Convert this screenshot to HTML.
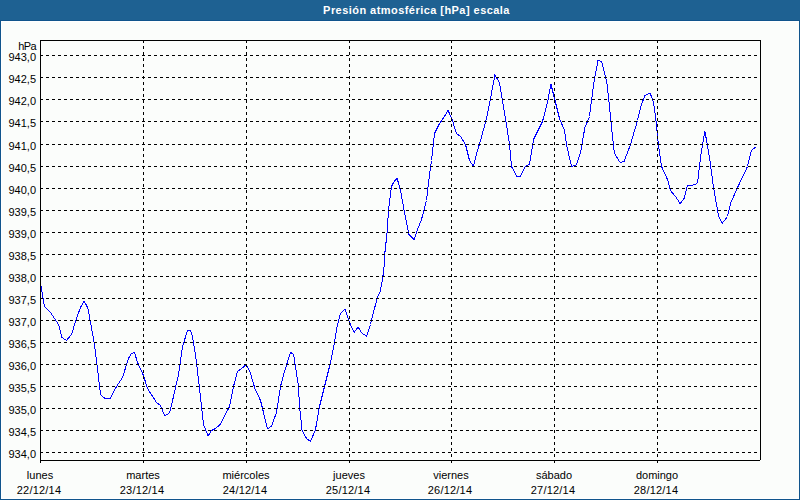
<!DOCTYPE html>
<html><head><meta charset="utf-8"><style>
html,body{margin:0;padding:0;}
body{width:800px;height:500px;position:relative;overflow:hidden;background:#10548c;font-family:"Liberation Sans",sans-serif;}
#bar{position:absolute;left:0;top:0;width:800px;height:20px;background:#1e6192;}
#bar2{position:absolute;left:0;top:20px;width:800px;height:1px;background:#10548c;}
#inner{position:absolute;left:1px;top:21px;width:798px;height:478px;background:#fff;}
#inner2{position:absolute;left:2px;top:22px;width:797px;height:476px;background:#fbfdfb;}
#title{position:absolute;left:0;top:3px;width:833px;text-align:center;color:#fff;font-weight:bold;font-size:11px;letter-spacing:0.45px;line-height:15px;}
.yl{position:absolute;left:0;width:36px;text-align:right;font-size:11px;line-height:14px;color:#000;}
.dt{letter-spacing:0.2px;position:relative;left:-1px;}
.xl{position:absolute;width:100px;text-align:center;font-size:11px;line-height:15px;color:#000;}
svg{position:absolute;left:0;top:0;}
</style></head><body>
<div id="bar"></div><div id="bar2"></div><div id="inner"></div><div id="inner2"></div>
<div id="title">Presión atmosférica [hPa] escala</div>
<svg width="800" height="500" viewBox="0 0 800 500" shape-rendering="crispEdges">
<polyline points="40.5,282.5 44.5,306.5 50.5,312.5 54.5,318.5 58.5,324.5 62.0,337.5 66.5,340.5 71.5,334.5 76.5,318.5 80.5,307.5 84.1,300.9 88.0,308.5 90.5,322.5 94.5,344.5 96.5,360.5 100.5,394.5 104.9,398.5 110.1,398.5 116.5,386.5 122.5,377.5 128.5,358.5 131.5,353.5 134.5,352.5 137.5,362.5 143.5,375.5 147.5,388.5 156.5,402.5 160.5,405.5 164.5,415.5 169.5,413.5 173.5,396.5 178.5,374.5 182.5,346.5 187.5,330.5 190.5,330.5 192.5,336.5 195.5,354.5 199.5,388.5 203.5,424.5 208.1,436.1 211.5,430.5 215.5,428.5 220.5,424.1 229.5,406.5 233.5,386.5 237.5,371.5 241.5,368.5 246.5,364.5 250.5,373.5 254.9,388.5 260.5,400.5 263.5,412.5 267.5,428.9 271.5,426.1 276.5,412.5 280.5,386.5 284.5,371.5 290.5,352.5 293.5,354.1 298.5,386.5 299.5,406.5 302.1,430.5 306.5,438.5 310.5,441.5 315.5,429.5 319.5,406.5 324.5,386.5 330.5,362.5 334.5,342.5 337.5,324.5 340.5,313.5 344.9,308.9 349.5,322.5 354.1,332.5 358.1,326.9 362.1,333.5 366.5,336.1 370.5,324.5 374.5,308.5 377.5,297.5 380.5,290.5 382.9,276.5 384.1,266.5 384.9,252.5 386.9,234.5 388.5,210.5 391.5,186.5 393.5,182.5 397.1,178.1 400.5,190.5 404.5,212.5 408.9,234.5 414.1,239.5 417.5,229.5 421.5,219.5 426.5,200.5 428.5,182.5 430.5,167.5 431.5,160.5 434.5,133.5 439.5,123.5 444.5,116.5 448.1,110.5 452.1,119.5 456.5,133.5 460.5,136.5 465.5,144.5 469.5,160.5 473.5,166.5 477.5,150.5 480.5,140.5 486.5,118.5 490.5,98.5 494.9,74.9 499.5,82.5 502.5,100.5 506.5,124.5 509.5,144.5 511.5,166.5 516.9,176.5 520.5,176.1 525.5,166.1 529.5,164.5 533.5,139.5 542.5,121.5 547.5,102.5 550.9,84.1 554.5,98.5 559.5,118.5 564.5,130.5 566.5,144.5 571.5,166.5 576.5,164.9 580.5,152.5 584.9,127.5 589.5,116.5 591.5,100.5 594.5,78.5 598.1,60.1 601.5,61.5 603.5,68.5 606.9,82.5 609.5,106.5 612.9,140.5 614.5,153.5 620.1,162.5 624.1,161.5 630.5,144.5 637.5,120.5 641.5,104.5 644.9,95.5 650.1,92.9 653.5,102.5 655.5,116.5 658.5,145.5 661.5,166.5 667.5,179.5 670.5,190.5 675.5,196.5 680.1,203.5 684.1,198.5 687.5,185.5 691.5,185.5 697.5,183.5 700.5,157.5 704.9,131.1 709.5,157.5 713.5,187.5 718.5,215.5 722.1,223.5 727.5,216.5 730.5,203.5 738.5,185.5 747.5,166.5 751.5,150.5 753.5,148.3 756.1,147.5" fill="none" stroke="#0000ff" stroke-width="1" shape-rendering="crispEdges"/>
<line x1="40" y1="55.5" x2="760" y2="55.5" stroke="#000" stroke-width="1" stroke-dasharray="3 3"/>
<line x1="40" y1="77.5" x2="760" y2="77.5" stroke="#000" stroke-width="1" stroke-dasharray="3 3"/>
<line x1="40" y1="99.5" x2="760" y2="99.5" stroke="#000" stroke-width="1" stroke-dasharray="3 3"/>
<line x1="40" y1="121.5" x2="760" y2="121.5" stroke="#000" stroke-width="1" stroke-dasharray="3 3"/>
<line x1="40" y1="144.5" x2="760" y2="144.5" stroke="#000" stroke-width="1" stroke-dasharray="3 3"/>
<line x1="40" y1="166.5" x2="760" y2="166.5" stroke="#000" stroke-width="1" stroke-dasharray="3 3"/>
<line x1="40" y1="188.5" x2="760" y2="188.5" stroke="#000" stroke-width="1" stroke-dasharray="3 3"/>
<line x1="40" y1="210.5" x2="760" y2="210.5" stroke="#000" stroke-width="1" stroke-dasharray="3 3"/>
<line x1="40" y1="232.5" x2="760" y2="232.5" stroke="#000" stroke-width="1" stroke-dasharray="3 3"/>
<line x1="40" y1="254.5" x2="760" y2="254.5" stroke="#000" stroke-width="1" stroke-dasharray="3 3"/>
<line x1="40" y1="276.5" x2="760" y2="276.5" stroke="#000" stroke-width="1" stroke-dasharray="3 3"/>
<line x1="40" y1="298.5" x2="760" y2="298.5" stroke="#000" stroke-width="1" stroke-dasharray="3 3"/>
<line x1="40" y1="320.5" x2="760" y2="320.5" stroke="#000" stroke-width="1" stroke-dasharray="3 3"/>
<line x1="40" y1="342.5" x2="760" y2="342.5" stroke="#000" stroke-width="1" stroke-dasharray="3 3"/>
<line x1="40" y1="364.5" x2="760" y2="364.5" stroke="#000" stroke-width="1" stroke-dasharray="3 3"/>
<line x1="40" y1="386.5" x2="760" y2="386.5" stroke="#000" stroke-width="1" stroke-dasharray="3 3"/>
<line x1="40" y1="408.5" x2="760" y2="408.5" stroke="#000" stroke-width="1" stroke-dasharray="3 3"/>
<line x1="40" y1="430.5" x2="760" y2="430.5" stroke="#000" stroke-width="1" stroke-dasharray="3 3"/>
<line x1="40" y1="452.5" x2="760" y2="452.5" stroke="#000" stroke-width="1" stroke-dasharray="3 3"/>
<line x1="143.5" y1="40" x2="143.5" y2="460" stroke="#000" stroke-width="1" stroke-dasharray="3 3"/>
<rect x="143" y="460" width="1" height="3" fill="#000"/>
<line x1="246.5" y1="40" x2="246.5" y2="460" stroke="#000" stroke-width="1" stroke-dasharray="3 3"/>
<rect x="246" y="460" width="1" height="3" fill="#000"/>
<line x1="349.5" y1="40" x2="349.5" y2="460" stroke="#000" stroke-width="1" stroke-dasharray="3 3"/>
<rect x="349" y="460" width="1" height="3" fill="#000"/>
<line x1="451.5" y1="40" x2="451.5" y2="460" stroke="#000" stroke-width="1" stroke-dasharray="3 3"/>
<rect x="451" y="460" width="1" height="3" fill="#000"/>
<line x1="554.5" y1="40" x2="554.5" y2="460" stroke="#000" stroke-width="1" stroke-dasharray="3 3"/>
<rect x="554" y="460" width="1" height="3" fill="#000"/>
<line x1="657.5" y1="40" x2="657.5" y2="460" stroke="#000" stroke-width="1" stroke-dasharray="3 3"/>
<rect x="657" y="460" width="1" height="3" fill="#000"/>
<rect x="40" y="40" width="720" height="1" fill="#000"/>
<rect x="40" y="40" width="1" height="423" fill="#000"/>
<rect x="760" y="40" width="1" height="420" fill="#000"/>
<rect x="40" y="460" width="720" height="1" fill="#000"/>
</svg>
<div class="yl" style="top:39px;letter-spacing:-0.6px">hPa</div>
<div class="yl" style="top:50px">943,0</div>
<div class="yl" style="top:72px">942,5</div>
<div class="yl" style="top:94px">942,0</div>
<div class="yl" style="top:116px">941,5</div>
<div class="yl" style="top:139px">941,0</div>
<div class="yl" style="top:161px">940,5</div>
<div class="yl" style="top:183px">940,0</div>
<div class="yl" style="top:205px">939,5</div>
<div class="yl" style="top:227px">939,0</div>
<div class="yl" style="top:249px">938,5</div>
<div class="yl" style="top:271px">938,0</div>
<div class="yl" style="top:293px">937,5</div>
<div class="yl" style="top:315px">937,0</div>
<div class="yl" style="top:337px">936,5</div>
<div class="yl" style="top:359px">936,0</div>
<div class="yl" style="top:381px">935,5</div>
<div class="yl" style="top:403px">935,0</div>
<div class="yl" style="top:425px">934,5</div>
<div class="yl" style="top:447px">934,0</div>
<div class="xl" style="left:-10px;top:468px">lunes<br><span class="dt">22/12/14</span></div>
<div class="xl" style="left:93px;top:468px">martes<br><span class="dt">23/12/14</span></div>
<div class="xl" style="left:196px;top:468px">miércoles<br><span class="dt">24/12/14</span></div>
<div class="xl" style="left:299px;top:468px">jueves<br><span class="dt">25/12/14</span></div>
<div class="xl" style="left:401px;top:468px">viernes<br><span class="dt">26/12/14</span></div>
<div class="xl" style="left:504px;top:468px">sábado<br><span class="dt">27/12/14</span></div>
<div class="xl" style="left:607px;top:468px">domingo<br><span class="dt">28/12/14</span></div>
</body></html>
